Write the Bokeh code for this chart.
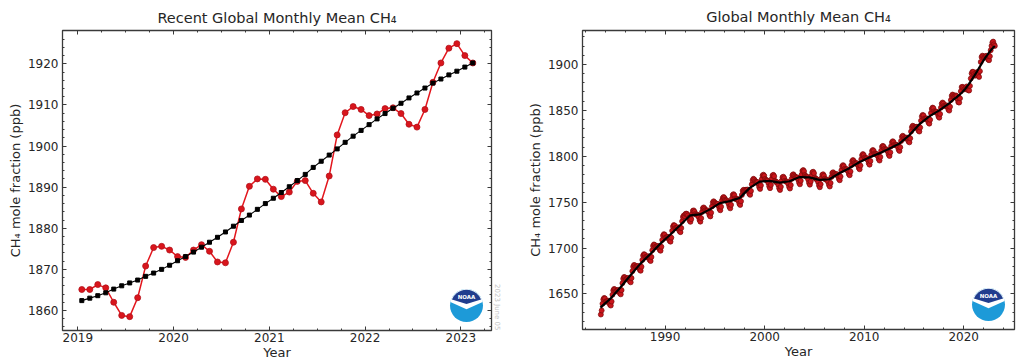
import math
from bokeh.plotting import figure
from bokeh.models import SingleIntervalTicker, LinearAxis, Range1d, Title
from bokeh.layouts import row
from bokeh.embed import file_html
from bokeh.resources import INLINE
from bokeh.core.properties import value

# ---------------- data ----------------
recent_first_month = (2019, 1)
recent_monthly_ppb = [
    1865.1, 1865.1, 1866.3, 1865.5, 1862.0, 1858.8, 1858.5, 1863.1, 1870.8, 1875.3, 1875.6, 1874.7,
    1873.1, 1872.9, 1874.7, 1876.0, 1874.4, 1871.8, 1871.6, 1876.6, 1884.7, 1890.2, 1892.0, 1891.9,
    1889.5, 1887.7, 1888.8, 1891.4, 1891.6, 1888.5, 1886.4, 1892.7, 1902.7, 1908.1, 1909.6, 1908.9,
    1907.4, 1907.8, 1909.1, 1909.3, 1907.9, 1905.3, 1904.6, 1908.9, 1915.5, 1920.2, 1923.8, 1924.9,
    1922.0, 1920.2,
]
recent_trend_ppb = [
    1862.4, 1863.0, 1863.6, 1864.3, 1865.2, 1866.0, 1866.7, 1867.4, 1868.3, 1869.1, 1870.0, 1871.0,
    1872.1, 1873.1, 1874.2, 1875.4, 1876.6, 1877.8, 1879.1, 1880.5, 1881.9, 1883.2, 1884.6, 1886.0,
    1887.3, 1888.7, 1890.1, 1891.6, 1893.1, 1894.8, 1896.3, 1897.8, 1899.3, 1900.9, 1902.4, 1903.8,
    1905.2, 1906.6, 1907.9, 1909.2, 1910.4, 1911.7, 1912.9, 1914.1, 1915.3, 1916.3, 1917.3, 1918.2,
    1919.2, 1920.2,
]

early_first_month = (1983, 7)
early_monthly_ppb = [
    1627.5, 1631.9, 1639.3, 1644.0, 1645.6, 1645.0,
    1641.8, 1641.5, 1642.2, 1642.5, 1640.9, 1638.3, 1637.3, 1641.7, 1649.1, 1653.8, 1655.4, 1654.8,
    1653.0, 1652.9, 1653.8, 1654.3, 1652.9, 1650.5, 1649.5, 1654.1, 1661.7, 1666.6, 1668.4, 1668.0,
    1666.1, 1666.0, 1666.9, 1667.4, 1666.0, 1663.6, 1662.6, 1667.2, 1674.8, 1679.7, 1681.5, 1681.1,
    1679.7, 1679.4, 1680.1, 1680.4, 1678.8, 1676.2, 1675.2, 1679.6, 1687.0, 1691.7, 1693.3, 1692.7,
    1690.3, 1690.0, 1690.7, 1691.0, 1689.4, 1686.8, 1685.8, 1690.2, 1697.6, 1702.3, 1703.9, 1703.3,
    1701.5, 1701.2, 1701.9, 1702.2, 1700.6, 1698.0, 1697.0, 1701.4, 1708.8, 1713.5, 1715.1, 1714.5,
    1711.4, 1711.1, 1711.8, 1712.1, 1710.5, 1707.9, 1706.9, 1711.3, 1718.7, 1723.4, 1725.0, 1724.4,
    1721.8, 1721.5, 1722.2, 1722.5, 1720.9, 1718.3, 1717.3, 1721.7, 1729.1, 1733.8, 1735.4, 1734.8,
    1737.0, 1737.5, 1737.0, 1735.5, 1733.0, 1730.0, 1728.5, 1731.5, 1737.0, 1740.5, 1741.0, 1739.5,
    1737.2, 1736.3, 1736.3, 1736.0, 1733.7, 1730.5, 1728.7, 1732.5, 1739.2, 1743.3, 1744.2, 1743.0,
    1741.4, 1740.6, 1740.9, 1740.9, 1738.8, 1735.8, 1734.4, 1738.4, 1745.3, 1749.7, 1750.9, 1749.8,
    1748.9, 1748.0, 1748.2, 1748.0, 1745.8, 1742.7, 1741.1, 1745.0, 1751.8, 1754.5, 1755.6, 1754.5,
    1752.7, 1751.8, 1751.8, 1750.5, 1748.2, 1745.0, 1743.2, 1747.0, 1753.7, 1757.8, 1758.7, 1757.5,
    1753.9, 1753.1, 1753.4, 1753.4, 1751.3, 1748.3, 1746.9, 1750.9, 1757.8, 1762.2, 1763.4, 1762.3,
    1763.4, 1762.9, 1763.5, 1763.6, 1761.9, 1759.1, 1757.9, 1762.1, 1769.4, 1773.9, 1775.4, 1774.6,
    1772.9, 1772.0, 1772.0, 1771.7, 1769.4, 1766.2, 1764.4, 1768.2, 1774.9, 1779.0, 1779.9, 1778.7,
    1775.2, 1774.0, 1773.8, 1773.2, 1770.7, 1767.2, 1765.2, 1768.7, 1775.2, 1779.0, 1779.7, 1778.2,
    1773.2, 1772.0, 1771.8, 1771.2, 1768.7, 1765.2, 1763.2, 1766.7, 1773.2, 1777.0, 1777.7, 1776.2,
    1773.3, 1772.4, 1772.4, 1772.1, 1769.8, 1766.6, 1764.8, 1768.6, 1775.3, 1779.4, 1780.3, 1779.1,
    1777.9, 1777.0, 1777.0, 1776.7, 1774.4, 1771.2, 1769.4, 1773.2, 1779.9, 1784.0, 1784.9, 1783.7,
    1779.5, 1778.2, 1777.9, 1777.2, 1774.6, 1771.0, 1769.0, 1772.4, 1778.8, 1782.5, 1783.1, 1781.5,
    1776.7, 1775.4, 1775.1, 1774.4, 1771.8, 1768.2, 1766.2, 1769.6, 1776.0, 1779.7, 1780.3, 1778.7,
    1775.5, 1774.6, 1774.6, 1774.3, 1772.0, 1768.8, 1767.0, 1770.8, 1777.5, 1781.6, 1782.5, 1781.3,
    1780.8, 1780.0, 1780.3, 1780.3, 1778.2, 1775.2, 1773.8, 1777.8, 1784.7, 1789.1, 1790.3, 1789.2,
    1786.3, 1785.5, 1785.8, 1785.8, 1783.7, 1780.7, 1779.3, 1783.3, 1790.2, 1794.6, 1795.8, 1794.7,
    1792.8, 1792.0, 1792.3, 1792.3, 1790.2, 1787.2, 1785.8, 1789.8, 1796.7, 1801.1, 1802.3, 1801.2,
    1798.6, 1797.7, 1797.9, 1797.7, 1795.5, 1792.4, 1790.8, 1794.7, 1801.5, 1805.8, 1806.8, 1805.7,
    1803.1, 1802.2, 1802.4, 1802.2, 1800.0, 1796.9, 1795.3, 1799.2, 1806.0, 1810.3, 1811.3, 1810.2,
    1808.1, 1807.2, 1807.4, 1807.2, 1805.0, 1801.9, 1800.3, 1804.2, 1811.0, 1815.3, 1816.3, 1815.2,
    1812.8, 1812.0, 1812.3, 1812.3, 1810.2, 1807.2, 1805.8, 1809.8, 1816.7, 1821.1, 1822.3, 1821.2,
    1819.6, 1819.3, 1820.0, 1820.3, 1818.7, 1816.1, 1815.1, 1819.5, 1826.9, 1831.6, 1833.2, 1832.6,
    1831.4, 1831.1, 1831.8, 1832.1, 1830.5, 1827.9, 1826.9, 1831.3, 1838.7, 1843.4, 1845.0, 1844.4,
    1841.0, 1840.5, 1841.1, 1841.2, 1839.5, 1836.7, 1835.5, 1839.7, 1847.0, 1851.5, 1853.0, 1852.2,
    1849.0, 1848.2, 1848.5, 1848.5, 1846.4, 1843.4, 1842.0, 1846.0, 1852.9, 1857.3, 1858.5, 1857.4,
    1855.2, 1854.7, 1855.3, 1855.4, 1853.7, 1850.9, 1849.7, 1853.9, 1861.2, 1865.7, 1867.2, 1866.4,
]
annual_trend_years = list(range(1983, 2019))
annual_trend_ppb = [
    1635.0, 1644.8, 1657.0, 1670.1, 1682.7, 1693.3, 1704.5, 1714.4, 1724.8, 1735.5,
    1736.6, 1742.1, 1748.9, 1751.1, 1754.6, 1765.5, 1772.3, 1773.2, 1771.2, 1772.7,
    1777.3, 1777.0, 1774.2, 1774.9, 1781.5, 1787.0, 1793.5, 1798.6, 1803.1, 1808.1,
    1813.5, 1822.6, 1834.4, 1843.1, 1849.7, 1857.3,
]

left_title = "Recent Global Monthly Mean CH\u2084"
right_title = "Global Monthly Mean CH\u2084"
y_label = "CH\u2084 mole fraction (ppb)"
x_label = "Year"
stamp = "2023 June 05"


def month_dates(first, n):
    y, m = first
    return [y + (m - 1 + i + 0.5) / 12.0 for i in range(n)]


recent_x = month_dates(recent_first_month, len(recent_monthly_ppb))
long_y = early_monthly_ppb + recent_monthly_ppb
long_x = month_dates(early_first_month, len(long_y))
long_trend_x = [yr + 0.5 for yr in annual_trend_years] + recent_x
long_trend_y = annual_trend_ppb + recent_trend_ppb

FONT = "DejaVu Sans"
TXT = "#262626"
EDGE = "#3a3a3a"


def style_ticks(ax):
    ax.axis_line_color = None
    ax.major_tick_in = 4
    ax.major_tick_out = 0
    ax.minor_tick_in = 2
    ax.minor_tick_out = 0
    ax.major_tick_line_color = EDGE
    ax.minor_tick_line_color = EDGE


def make_fig(title, xr, yr, fw, fh, ml, mr, mt, mb, xint, xminor, yint, yminor, title_gap):
    p = figure(frame_width=fw, frame_height=fh, x_range=xr, y_range=yr,
               output_backend="svg", toolbar_location=None, title=None,
               min_border_left=ml, min_border_right=mr, min_border_top=mt,
               min_border_bottom=mb)
    p.grid.visible = False
    p.background_fill_color = "white"
    p.border_fill_color = "white"
    p.outline_line_color = EDGE
    p.outline_line_width = 1.3
    xt = SingleIntervalTicker(interval=xint, num_minor_ticks=xminor)
    yt = SingleIntervalTicker(interval=yint, num_minor_ticks=yminor)
    bottom = p.below[0]
    leftax = p.left[0]
    bottom.ticker = xt
    leftax.ticker = yt
    for ax in (bottom, leftax):
        style_ticks(ax)
        ax.major_label_text_font = FONT
        ax.major_label_text_font_size = "12px"
        ax.major_label_text_color = TXT
        ax.axis_label_text_font = FONT
        ax.axis_label_text_font_size = "13px"
        ax.axis_label_text_font_style = "normal"
        ax.axis_label_text_color = TXT
    bottom.major_label_standoff = 2
    bottom.axis_label = x_label
    bottom.axis_label_standoff = 0
    leftax.major_label_standoff = 4
    leftax.axis_label = y_label
    leftax.axis_label_standoff = 2
    # tick-only axis on top carries the chart title as its label
    top = LinearAxis(ticker=xt, major_label_text_color=None,
                     major_label_text_font_size="1px", major_label_standoff=0,
                     axis_label=title, axis_label_standoff=title_gap,
                     axis_label_text_font=FONT, axis_label_text_font_size="14.5px",
                     axis_label_text_font_style="normal", axis_label_text_color=TXT)
    right = LinearAxis(ticker=yt, major_label_text_color=None,
                       major_label_text_font_size="1px", major_label_standoff=0)
    style_ticks(top)
    style_ticks(right)
    p.add_layout(top, "above")
    p.add_layout(right, "right")
    return p


def add_logo(p, fw, fh, dx_px, dy_px):
    xr, yr = p.x_range, p.y_range
    sx = (xr.end - xr.start) / fw
    sy = (yr.end - yr.start) / fh
    cx = xr.end - dx_px * sx
    cy = yr.start + dy_px * sy
    R = 16.5

    def shape(a0, a1, r, tip):
        angs = [math.radians(a0 + (a1 - a0) * k / 40.0) for k in range(41)]
        xs = [cx + r * math.cos(a) * sx for a in angs] + [cx + tip[0] * sx]
        ys = [cy + r * math.sin(a) * sy for a in angs] + [cy + tip[1] * sy]
        return xs, ys

    p.scatter([cx], [cy], marker="circle", size=2 * R, fill_color="#1d9ad8", line_color=None)
    wx, wy = shape(12, 168, R, (0, -3.8))
    p.patch(wx, wy, fill_color="white", line_color=None)
    dxs, dys = shape(22, 158, R - 0.8, (0, 1.6))
    p.patch(dxs, dys, fill_color="#203d8e", line_color=None)
    p.text([cx], [cy + 9 * sy], text=["NOAA"], text_font=value(FONT), text_font_size="5.5px",
           text_font_style="bold", text_color="white", text_align="center",
           text_baseline="middle")


# ---------------- left: recent ----------------
LFW, LFH = 429, 300
left = make_fig(left_title, Range1d(2018.84, 2023.32), Range1d(1855.13, 1928.1),
                LFW, LFH, 62, 29, 30, 30, 1, 4, 10, 5, 5)
left.line(recent_x, recent_monthly_ppb, line_color="#e3161d", line_width=1.5)
left.scatter(recent_x, recent_monthly_ppb, marker="circle", size=6,
             fill_color="#d9151c", line_color="#b3121a", line_width=0.8)
left.line(recent_x, recent_trend_ppb, line_color="black", line_width=1.1)
left.scatter(recent_x, recent_trend_ppb, marker="square", size=4,
             fill_color="black", line_color="black")
add_logo(left, LFW, LFH, 25, 25)
left.add_layout(Title(text=stamp, align="right", text_font=FONT, text_font_size="7px",
                      text_font_style="normal", text_color="#c4c4c4", standoff=3,
                      offset=0), "right")

# ---------------- right: full record ----------------
RFW, RFH = 432, 299
right = make_fig(right_title, Range1d(1981.7, 2025.1), Range1d(1611.2, 1937.0),
                 RFW, RFH, 62, 5, 30, 31, 10, 5, 50, 5, 6)
right.line(long_x, long_y, line_color="#c81418", line_width=1)
right.scatter(long_x, long_y, marker="circle", size=5,
              fill_color="#c9151b", line_color="#7a0a0a", line_width=0.7)
right.line(long_trend_x, long_trend_y, line_color="black", line_width=2.2)
add_logo(right, RFW, RFH, 26, 25)

layout = row(left, right)
open("out.html", "w").write(file_html(layout, INLINE))
